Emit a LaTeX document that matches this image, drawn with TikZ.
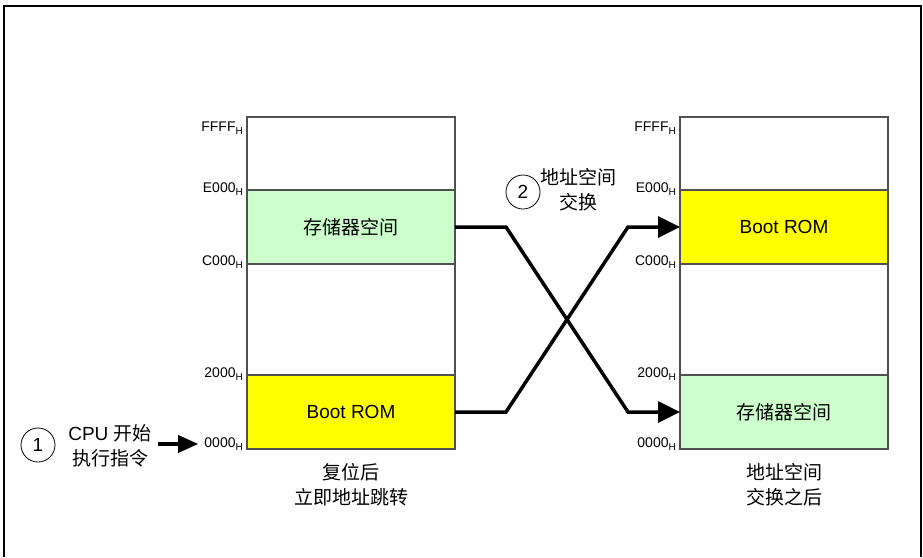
\documentclass[tikz,border=0pt]{standalone}
\usepackage{fontspec}
\setmainfont{Liberation Sans}
\newfontfamily\cjk{Noto Sans CJK SC}
\usetikzlibrary{arrows.meta,positioning}
\definecolor{mgreen}{HTML}{CCFFCC}
\definecolor{myellow}{HTML}{FFFF00}
\definecolor{mgray}{HTML}{505050}
\newcommand{\haddr}[1]{#1\raisebox{-0.5ex}{\fontsize{10}{10}\selectfont H}}

\begin{document}
\begin{tikzpicture}[x=1pt,y=-1pt,
  seg/.style={draw=mgray,line width=1.1pt,minimum width=208pt,inner sep=0pt,
              outer sep=0pt,font=\fontsize{19}{23}\selectfont},
  addr/.style={anchor=base east,inner sep=0pt,font=\fontsize{14}{16}\selectfont},
  note/.style={align=center,inner sep=2pt,font=\fontsize{19}{25}\selectfont},
  num/.style={draw,circle,line width=0.8pt,minimum size=34pt,inner sep=0pt,
              font=\fontsize{19}{23}\selectfont},
  link/.style={-{Triangle[length=22pt,width=21pt]},line width=3.5pt}]
\useasboundingbox (0,0) rectangle (923,557);
\draw[line width=1.5pt] (4,557) -- (4,6) -- (921,6) -- (921,557);
% before the swap
\node[seg,minimum height=73pt] (ltop) at (351,153.5) {};
\node[seg,minimum height=74pt,fill=mgreen] (lram) at (351,227) {\cjk 存储器空间};
\node[seg,minimum height=111pt] (lmid) at (351,319.5) {};
\node[seg,minimum height=74pt,fill=myellow] (lrom) at (351,412) {Boot ROM};
\node[addr] (lffff) at (243,131) {\haddr{FFFF}};
\node[addr] (le000) at (243,192) {\haddr{E000}};
\node[addr] (lc000) at (243,265) {\haddr{C000}};
\node[addr] (l2000) at (243,377) {\haddr{2000}};
\node[addr] (l0000) at (243,447) {\haddr{0000}};
% after the swap
\node[seg,minimum height=73pt] (rtop) at (784,153.5) {};
\node[seg,minimum height=74pt,fill=myellow] (rrom) at (784,227) {Boot ROM};
\node[seg,minimum height=111pt] (rmid) at (784,319.5) {};
\node[seg,minimum height=74pt,fill=mgreen] (rram) at (784,412) {\cjk 存储器空间};
\node[addr] (rffff) at (676,131) {\haddr{FFFF}};
\node[addr] (re000) at (676,192) {\haddr{E000}};
\node[addr] (rc000) at (676,265) {\haddr{C000}};
\node[addr] (r2000) at (676,377) {\haddr{2000}};
\node[addr] (r0000) at (676,447) {\haddr{0000}};
\draw[link] (lram.east) -- ++(51,0) -- ([xshift=-52pt]rram.west) -- (rram.west);
\draw[link] (lrom.east) -- ++(51,0) -- ([xshift=-52pt]rrom.west) -- (rrom.west);
% steps
\node[num] (n1) at (38,445) {1};
\node[note] (cpu) at (110,446) {CPU {\cjk 开始}\\{\cjk 执行指令}};
\draw[link,-{Triangle[length=20pt,width=17pt]},shorten <=4pt,shorten >=6pt]
  (l0000.west -| cpu.east) -- (l0000.west);
\node[num] (n2) at (523,192) {2};
\node[note] (swap) at (578,190) {\cjk 地址空间\\\cjk 交换};
\node[note] (lcap) at (351,485) {\cjk 复位后\\\cjk 立即地址跳转};
\node[note] (rcap) at (784,485) {\cjk 地址空间\\\cjk 交换之后};
\end{tikzpicture}
\end{document}
